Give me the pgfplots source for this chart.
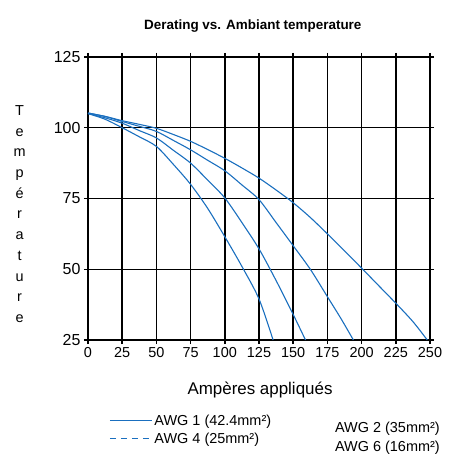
\documentclass[border=0pt]{standalone}
\usepackage{pgfplots}
\pgfplotsset{compat=1.18}
\usepackage{fontspec}
\setmainfont{Liberation Sans}
\definecolor{awg}{HTML}{1A6FBF}
\begin{document}
\begin{tikzpicture}
\path[use as bounding box] (-88bp,-115bp) rectangle (369bp,340bp);
\begin{axis}[
 scale only axis, width=342bp, height=283bp,
 xmin=0,xmax=250,ymin=25,ymax=125,
 xtick={0,25,...,250}, ytick={25,50,...,125},
 grid=major, major grid style={black, line width=1.5bp},
 axis line style={black, line width=1.5bp},
 tick style={black, line width=1.5bp},
 tick align=outside, major tick length=4bp,
 /pgf/number format/assume math mode=true,
 xticklabel style={font=\fontsize{14.5}{16}\selectfont},
 yticklabel style={font=\fontsize{16}{18}\selectfont},
 title={Derating vs. Ambiant temperature},
 title style={font=\bfseries\fontsize{13.5}{15}\selectfont, at={(axis description cs:0.482,1)}, anchor=center, yshift=25bp},
 xlabel={Ampères appliqués},
 xlabel style={font=\fontsize{17}{19}\selectfont, at={(axis description cs:0.503,0)}, anchor=center, yshift=-50bp},
 ylabel={T\\e\\m\\p\\é\\r\\a\\t\\u\\r\\e},
 ylabel style={rotate=-90, align=center, font=\fontsize{14.5}{20.8}\selectfont, at={(axis description cs:-0.2,0.445)}, anchor=center},
 legend columns=2,
 legend cell align=left,
 legend style={at={(axis description cs:0.062,-0.256)}, anchor=north west, draw=none, fill=none, inner sep=0pt,
   font=\fontsize{14.5}{16}\selectfont, row sep=2bp,
   /tikz/every even column/.append style={column sep=60bp}},
 legend image code/.code={\draw[#1] (0bp,0bp) -- (42bp,0bp);},
]
\addlegendimage{awg, line width=1.1bp}
\addlegendentry{AWG 1 (42.4mm²)}
\addlegendimage{empty legend}
\addlegendentry{\smash{\raisebox{-13bp}{AWG 2 (35mm²)}}}
\addlegendimage{awg, line width=1.1bp, dash pattern=on 6bp off 5bp}
\addlegendentry{AWG 4 (25mm²)}
\addlegendimage{empty legend}
\addlegendentry{\smash{\raisebox{-14bp}{AWG 6 (16mm²)}}}

\addplot[awg, line width=1.1bp, smooth, forget plot] coordinates {
(0,105.2)(12.5,104)(25,102.5)(37.5,101.2)(50,99.8)(62.5,97.6)(75,95.2)(87.5,92.3)(100,89.2)(112.5,85.8)(125,82.2)(137.5,78)(150,73.5)(162.5,68.3)(175,62.5)(187.5,56.5)(200,50.4)(212.5,44.2)(225,38)(237.5,31.5)(248,25)};
\addplot[awg, line width=1.1bp, smooth, forget plot] coordinates {
(0,105.2)(12.5,104)(25,102.2)(37.5,100.5)(50,98.7)(62.5,95.5)(75,92.2)(87.5,88.5)(100,84.8)(112.5,79.8)(125,74.6)(137.5,66.5)(150,58.3)(162.5,50)(175,40.3)(185,32.5)(194,25)};
\addplot[awg, line width=1.1bp, smooth, forget plot] coordinates {
(0,105)(12.5,103.5)(25,101.6)(37.5,99)(50,96.4)(62.5,92)(75,87.5)(87.5,81.5)(100,75.2)(112.5,66.5)(125,57.2)(137.5,46)(150,34)(159,25)};
\addplot[awg, line width=1.1bp, smooth, forget plot] coordinates {
(0,105)(12.5,103)(25,100)(37.5,96.8)(50,93.4)(62.5,87)(75,80)(87.5,71.5)(100,61.5)(112.5,51)(125,39.5)(135.3,25)};
\end{axis}
\end{tikzpicture}
\end{document}
